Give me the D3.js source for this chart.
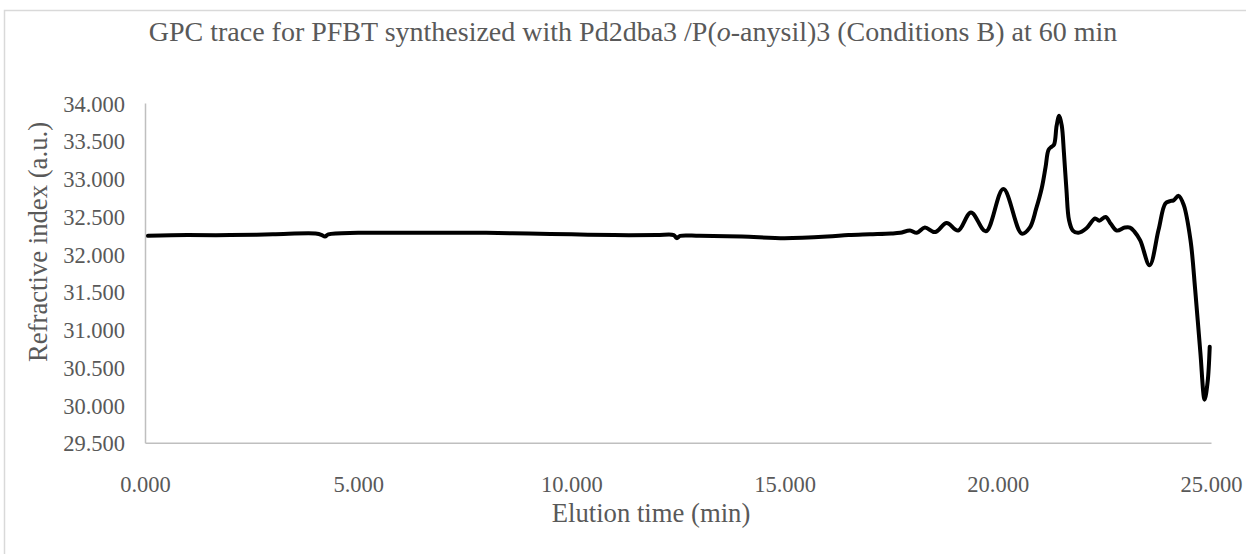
<!DOCTYPE html>
<meta charset="utf-8">
<html>
<head>
    <style>
        body {
            margin: 0;
            background: #fff;
        }

        svg text {
            font-family: "Liberation Serif", Tinos, "DejaVu Serif", serif;
            fill: #595959;
        }

        .axis path {
            fill: none;
            stroke: #bfbfbf;
            stroke-width: 1.5px;
        }

        .axis text {
            font-size: 22.5px;
        }

        .trace {
            fill: none;
            stroke: #000;
            stroke-width: 4px;
            stroke-linejoin: round;
            stroke-linecap: round;
        }
    </style>
</head>

<body>
    <svg id="chart"></svg>

    <script src="https://cdn.jsdelivr.net/npm/d3@7"></script>
    <script>

        // elution time (min) and refractive index (a.u.)
        var times = [0.07, 1, 2, 3, 4, 4.15, 4.22, 4.3, 5, 6, 7, 8, 9, 10, 11, 12, 12.4, 12.47, 12.55,
            13, 14, 15, 16, 16.5, 17, 17.5, 17.71, 17.94, 18.1, 18.29, 18.53, 18.8, 19.07, 19.37,
            19.72, 20.13, 20.56, 20.75, 20.9, 21.03, 21.12, 21.19, 21.26, 21.32, 21.38, 21.44,
            21.5, 21.55, 21.61, 21.67, 21.76, 21.89, 22.08, 22.28, 22.38, 22.53, 22.65, 22.79,
            22.98, 23.1, 23.2, 23.34, 23.56, 23.77, 23.93, 24.04, 24.12, 24.24, 24.36, 24.52,
            24.63, 24.75, 24.85, 24.92, 24.97];

        var refIndex = [32.24, 32.25, 32.25, 32.26, 32.27, 32.25, 32.23, 32.26, 32.28, 32.28,
            32.28, 32.28, 32.27, 32.26, 32.25, 32.25, 32.25, 32.21, 32.24, 32.24, 32.23, 32.21,
            32.23, 32.25, 32.26, 32.27, 32.28, 32.31, 32.28, 32.35, 32.29, 32.41, 32.31, 32.55,
            32.30, 32.86, 32.27, 32.35, 32.60, 32.87, 33.15, 33.38, 33.42, 33.45, 33.70, 33.83,
            33.70, 33.35, 32.85, 32.45, 32.31, 32.28, 32.34, 32.47, 32.44, 32.49, 32.40, 32.31,
            32.35, 32.35, 32.30, 32.18, 31.85, 32.32, 32.67, 32.70, 32.71, 32.77, 32.65, 32.18,
            31.52, 30.70, 30.07, 30.30, 30.77];

        var xTicks = [0, 5, 10, 15, 20, 25];
        var yTicks = [29.5, 30, 30.5, 31, 31.5, 32, 32.5, 33, 33.5, 34];

        var data = times.map(function (t, i) { return { t: t, v: refIndex[i] }; });

        var W = 1246, H = 554;
        var plot = { left: 145, right: 1211, top: 103, bottom: 442.7 };
        var serif = '"Liberation Serif", Tinos, "DejaVu Serif", serif';

        var svg = d3.select("#chart")
            .attr("width", W)
            .attr("height", H);

        // chart area border (runs off the right and bottom of the picture)
        svg.append("rect")
            .attr("x", 4.5)
            .attr("y", 10.5)
            .attr("width", 1400)
            .attr("height", 700)
            .attr("fill", "#fff")
            .attr("stroke", "#d9d9d9")
            .attr("stroke-width", 1.5);

        var x = d3.scaleLinear().domain([0, 25]).range([plot.left, plot.right]);
        var y = d3.scaleLinear().domain([29.5, 34]).range([plot.bottom, plot.top]);

        var fmt = d3.format(".3f");

        // X axis
        var gx = svg.append("g")
            .attr("class", "axis")
            .attr("transform", "translate(0," + plot.bottom + ")")
            .call(d3.axisBottom(x).tickValues(xTicks).tickFormat(fmt).tickSize(0).tickPadding(33))
            .attr("font-family", serif)
            .attr("font-size", 22.5);
        gx.selectAll("text").attr("dy", "0.71em").attr("fill", "#595959");

        // Y axis
        var gy = svg.append("g")
            .attr("class", "axis")
            .attr("transform", "translate(" + plot.left + ",0)")
            .call(d3.axisLeft(y).tickValues(yTicks).tickFormat(fmt).tickSize(0).tickPadding(20))
            .attr("font-family", serif)
            .attr("font-size", 22.5);
        gy.selectAll("text").attr("dy", "0.36em").attr("fill", "#595959");

        // trace
        var line = d3.line()
            .x(function (d) { return x(d.t); })
            .y(function (d) { return y(d.v); })
            .curve(d3.curveCatmullRom.alpha(0.5));

        svg.append("path")
            .datum(data)
            .attr("class", "trace")
            .attr("d", line);

        // titles
        svg.append("text")
            .attr("x", 633)
            .attr("y", 41)
            .attr("text-anchor", "middle")
            .attr("font-family", serif)
            .style("font-size", "28px")
            .html('GPC trace for PFBT synthesized with Pd2dba3 /P(<tspan font-style="italic">o</tspan>-anysil)3 (Conditions B) at 60 min');

        svg.append("text")
            .attr("x", 651)
            .attr("y", 522)
            .attr("text-anchor", "middle")
            .attr("font-family", serif)
            .style("font-size", "26.7px")
            .text("Elution time (min)");

        svg.append("text")
            .attr("transform", "translate(47,242)rotate(-90)")
            .attr("text-anchor", "middle")
            .attr("font-family", serif)
            .style("font-size", "26.7px")
            .text("Refractive index (a.u.)");

    </script>
</body>
</html>
